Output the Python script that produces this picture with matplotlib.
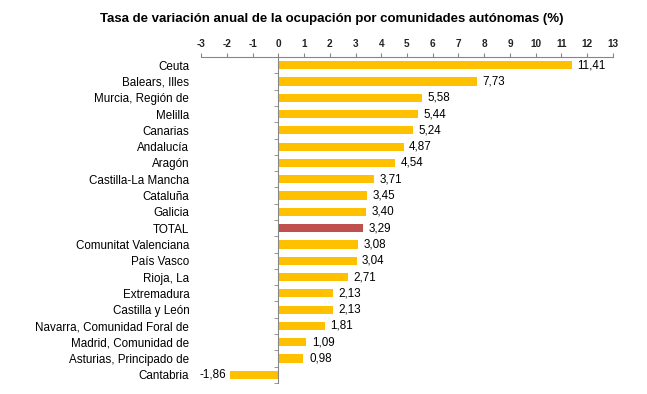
import matplotlib
matplotlib.use("Agg")
import matplotlib.pyplot as plt
import numpy as np

plt.rcParams['font.family'] = ['Liberation Sans', 'DejaVu Sans']

regiones = ['Ceuta', 'Balears, Illes', 'Murcia, Región de', 'Melilla', 'Canarias',
            'Andalucía', 'Aragón', 'Castilla-La Mancha', 'Cataluña', 'Galicia',
            'TOTAL', 'Comunitat Valenciana', 'País Vasco', 'Rioja, La',
            'Extremadura', 'Castilla y León', 'Navarra, Comunidad Foral de',
            'Madrid, Comunidad de', 'Asturias, Principado de', 'Cantabria']
variacion = [11.41, 7.73, 5.58, 5.44, 5.24, 4.87, 4.54, 3.71, 3.45, 3.40,
             3.29, 3.08, 3.04, 2.71, 2.13, 2.13, 1.81, 1.09, 0.98, -1.86]
xticks = list(range(-3, 14))

amarillo = '#FFC000'
rojo = '#C0504D'
gris = '#868686'

fig = plt.figure(figsize=(6.47, 3.94), dpi=100)
ax = fig.add_axes([0.3107, 0.028, 0.6367, 0.8273])

y = np.arange(len(regiones))
colores = [rojo if r == 'TOTAL' else amarillo for r in regiones]
ax.barh(y, variacion, height=0.5, color=colores)

for yi, v in zip(y, variacion):
    txt = f'{v:.2f}'.replace('.', ',')
    if v >= 0:
        ax.annotate(txt, (v, yi), xytext=(4, 0), textcoords='offset points',
                    ha='left', va='center', fontsize=8.4)
    else:
        ax.annotate(txt, (v, yi), xytext=(-3, 0), textcoords='offset points',
                    ha='right', va='center', fontsize=8.4)

ax.set_xlim(-3, 13)
ax.set_ylim(len(regiones) - 0.5, -0.5)

ax.xaxis.tick_top()
ax.set_xticks(xticks)
ax.set_xticklabels([str(t) for t in xticks], fontsize=7.2, fontweight='bold',
                   color='#222222')
ax.tick_params(axis='x', direction='out', length=3, color=gris, pad=3)

ax.spines['left'].set_position(('data', 0))
ax.spines['left'].set_color(gris)
ax.spines['top'].set_color(gris)
ax.spines['right'].set_visible(False)
ax.spines['bottom'].set_visible(False)

ax.set_yticks(y)
ax.set_yticklabels(regiones, fontsize=8.4)
ax.set_yticks(np.arange(len(regiones) + 1) - 0.5, minor=True)
ax.tick_params(axis='y', which='major', length=0, pad=64)
ax.tick_params(axis='y', which='minor', length=3, direction='out', color=gris)

fig.text(0.513, 0.952, 'Tasa de variación anual de la ocupación por comunidades autónomas (%)',
         ha='center', va='center', fontsize=9.5, fontweight='bold')

fig.savefig('out.png', dpi=100)
